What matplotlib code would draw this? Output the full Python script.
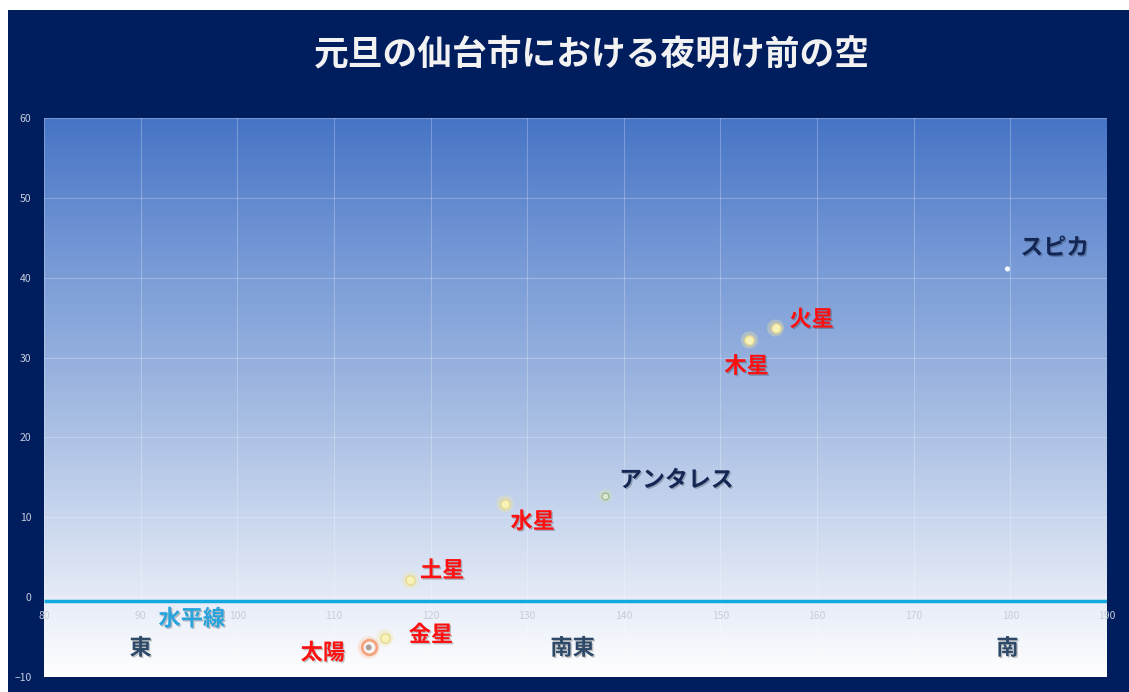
import matplotlib
matplotlib.use("Agg")
import matplotlib.pyplot as plt
import matplotlib.patheffects as pe
from matplotlib.patches import Rectangle
from matplotlib.colors import LinearSegmentedColormap
import numpy as np

plt.rcParams['font.family'] = ['Noto Sans CJK JP', 'DejaVu Sans']

# ---- data ----
title = "元旦の仙台市における夜明け前の空"
planet_names = ["土星", "水星", "木星", "火星", "金星"]
planet_az = [117.9, 127.7, 153.0, 155.7, 115.3]
planet_alt = [2.1, 11.7, 32.2, 33.7, -5.1]
star_names = ["アンタレス", "スピカ"]
star_az = [138.1, 179.7]
star_alt = [12.7, 41.1]
sun_name = "太陽"
sun_az = [113.6]
sun_alt = [-6.3]
horizon_az = [80, 190]
horizon_alt = [-0.5, -0.5]
horizon_label = "水平線"
dir_names = ["東", "南東", "南"]
dir_az = [90, 134.7, 179.7]
dir_alt = [-6.4, -6.4, -6.4]
xticks = list(range(80, 191, 10))
yticks = list(range(-10, 61, 10))

# label offsets (points) relative to each mark
planet_offsets = [(23, 7), (20, -13), (-2, -19), (26, 6), (33, 2)]
star_offsets = [(51, 11), (34, 15)]
sun_offset = (-33, -4)

navy = "#001d5e"
W, H = 1129, 692
fig = plt.figure(figsize=(W / 100, H / 100), dpi=100, facecolor="white")
fig.patches.append(Rectangle((8 / W, 0), 1 - 8 / W, 1 - 10 / H, transform=fig.transFigure,
                             facecolor=navy, edgecolor="none", zorder=-10))

ax = fig.add_axes([44 / W, 15 / H, 1063 / W, 559 / H])
ax.set_zorder(1)

# gradient background
cmap = LinearSegmentedColormap.from_list("sky", [(0, "#ffffff"), (0.12, "#e9eef8"), (0.45, "#a9bfe4"),
                                                 (0.8, "#6d92d3"), (1.0, "#4674c5")])
grad = np.linspace(0, 1, 256).reshape(-1, 1)
ax.imshow(grad, aspect="auto", cmap=cmap, origin="lower", extent=[0, 1, 0, 1],
          transform=ax.transAxes, zorder=0)
ax.set_xlim(80, 190)
ax.set_ylim(-10, 60)

ax.set_xticks(xticks)
ax.set_yticks(yticks)
ax.grid(True, color="white", alpha=0.25, linewidth=0.8, zorder=1)
for s in ax.spines.values():
    s.set_visible(False)
ax.spines['bottom'].set_position(('data', 0))
ax.tick_params(axis='x', length=0, pad=10, labelsize=7.5, labelcolor="#c8ccd8")
ax.tick_params(axis='y', length=0, pad=9, labelsize=7.5, labelcolor="#c8d0e0")

# horizon
ax.plot(horizon_az, horizon_alt, color="#13a8e0", linewidth=2.5, zorder=3, solid_capstyle="butt")

shadow = [pe.withSimplePatchShadow(offset=(1.0, -1.0), shadow_rgbFace="#000000", alpha=0.22)]

# planets
ax.scatter(planet_az, planet_alt, s=150, color="#f3e7a0", alpha=0.35, edgecolors="none", zorder=4)
ax.scatter(planet_az, planet_alt, s=45, color="#f6f2b8", edgecolors="#e6d890", linewidths=1, zorder=5)
for n, x, y, off in zip(planet_names, planet_az, planet_alt, planet_offsets):
    ax.annotate(n, (x, y), xytext=off, textcoords="offset points", ha="center", va="center",
                fontsize=16, fontweight="bold", color="#ff1010", path_effects=shadow, zorder=6)

# stars
ax.scatter(star_az[0], star_alt[0], s=90, color="#cfe0c0", alpha=0.5, edgecolors="none", zorder=4)
ax.scatter(star_az[0], star_alt[0], s=25, color="#d9ecd0", edgecolors="#a5b89a", linewidths=1, zorder=5)
ax.scatter(star_az[1], star_alt[1], s=14, color="#f4f8ff", edgecolors="none", zorder=5)
for n, x, y, off in zip(star_names, star_az, star_alt, star_offsets):
    ax.annotate(n, (x, y), xytext=off, textcoords="offset points", ha="center", va="center",
                fontsize=16.5, fontweight="bold", color="#142654", path_effects=shadow, zorder=6)

# sun
ax.scatter(sun_az, sun_alt, s=260, color="#fbd0b8", alpha=0.45, edgecolors="none", zorder=4)
ax.scatter(sun_az, sun_alt, s=110, color="#f7f4f4", edgecolors="#f3a47e", linewidths=2, zorder=5)
ax.scatter(sun_az, sun_alt, s=18, color="#a89e9e", edgecolors="none", zorder=6)
ax.annotate(sun_name, (sun_az[0], sun_alt[0]), xytext=sun_offset, textcoords="offset points",
            ha="center", va="center", fontsize=16, fontweight="bold", color="#ff1010",
            path_effects=shadow, zorder=6)

# directions
for n, x, y in zip(dir_names, dir_az, dir_alt):
    ax.text(x, y, n, ha="center", va="center", fontsize=16, fontweight="bold", color="#2e4a68",
            path_effects=shadow, zorder=6)

ax.text(95.3, -2.75, horizon_label, ha="center", va="center", fontsize=16, fontweight="bold",
        color="#29a3dc", path_effects=shadow, zorder=6)

fig.text(592 / W, 1 - 55 / H, title, ha="center", va="center", fontsize=25, fontweight="bold",
         color="#f2f2f2")

fig.savefig("out.png", dpi=100, facecolor="white")
